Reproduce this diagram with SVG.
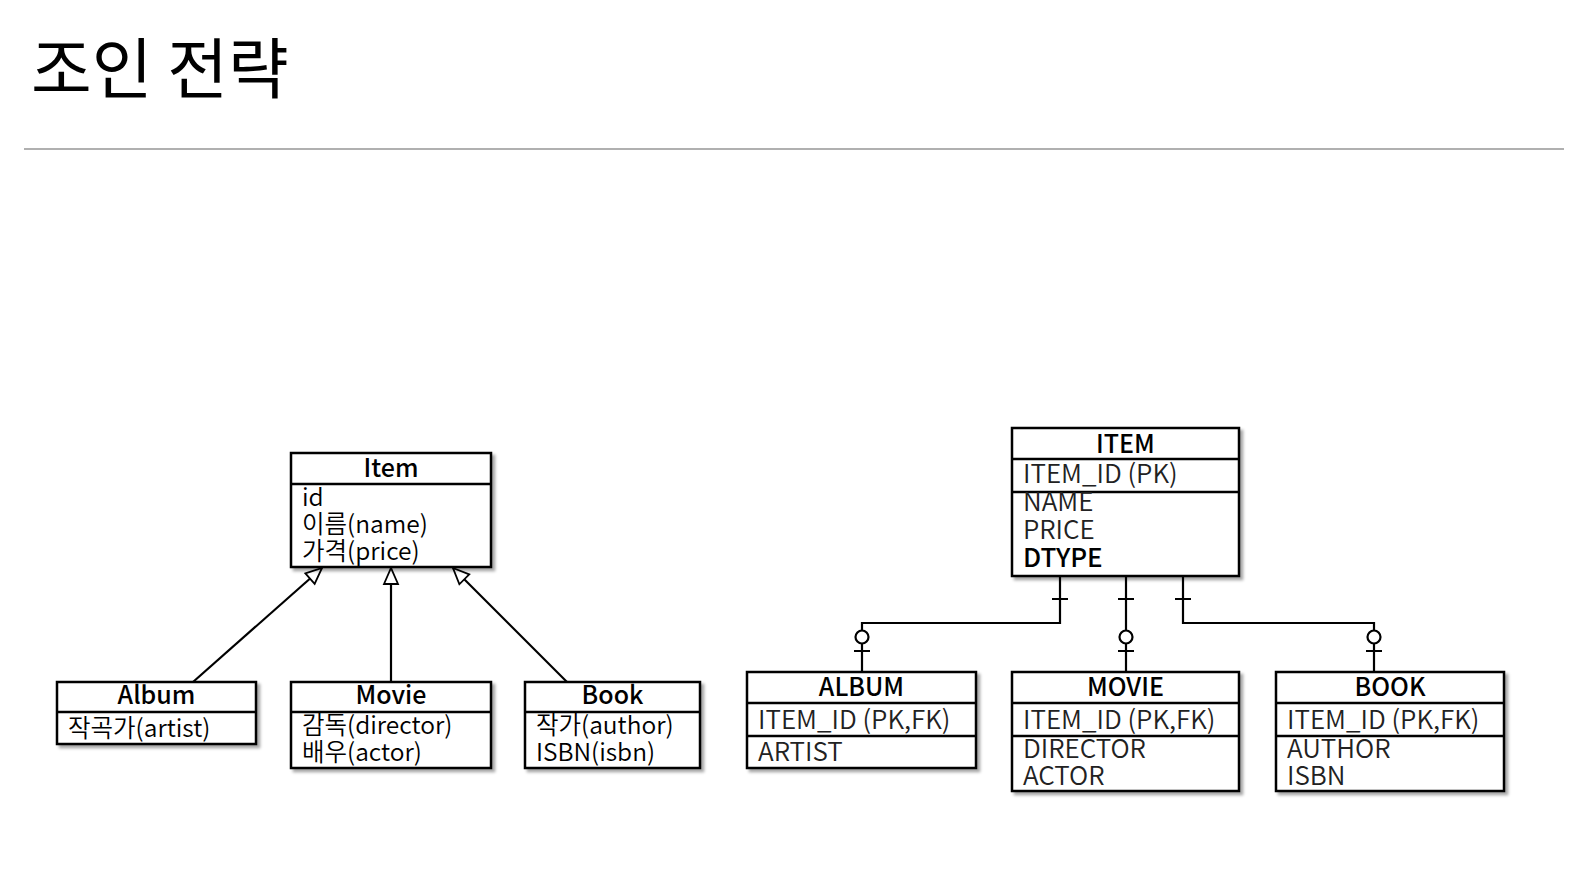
<svg xmlns="http://www.w3.org/2000/svg" width="1594" height="872" viewBox="0 0 1594 872">
<defs>
<filter id="sh" x="-10%" y="-10%" width="130%" height="130%">
<feDropShadow dx="3" dy="3" stdDeviation="1.5" flood-color="#000" flood-opacity="0.35"/>
</filter>
<marker id="tri" markerUnits="userSpaceOnUse" markerWidth="20" markerHeight="20" viewBox="0 0 20 20" refX="18" refY="10" orient="auto">
<path d="M2,3 L18,10 L2,17 Z" fill="#fff" stroke="#000" stroke-width="1.8"/>
</marker>
<style>
text{font-family:"Noto Sans CJK KR","Liberation Sans",sans-serif;fill:#000}
.box{fill:#fff;stroke:#000;stroke-width:2.5;filter:url(#sh)}
.sep{stroke:#000;stroke-width:2.5}
.hd{font-size:25px;font-weight:500;text-anchor:middle}
.at{font-size:24.5px;font-weight:350}
.er{font-size:26px;font-weight:350;fill:#222}
.ln{fill:none;stroke:#000;stroke-width:2.2}
</style>
</defs>
<rect width="1594" height="872" fill="#fff"/>
<text x="31" y="93" style="font-size:66px;font-weight:400">조인 전략</text>
<line x1="24" y1="149" x2="1564" y2="149" stroke="#b0b0b0" stroke-width="2"/>

<g id="connectors">
<line class="ln" x1="193" y1="682" x2="322" y2="568" marker-end="url(#tri)"/>
<line class="ln" x1="391" y1="682" x2="391" y2="568" marker-end="url(#tri)"/>
<line class="ln" x1="567" y1="682" x2="453" y2="568" marker-end="url(#tri)"/>
<path class="ln" d="M1060,576 V623 H862 V672"/>
<path class="ln" d="M1126,576 V672"/>
<path class="ln" d="M1183,576 V623 H1374 V672"/>
<path class="ln" d="M1052,599 H1068 M1118,599 H1134 M1175,599 H1191 M854,651 H870 M1118,651 H1134 M1366,651 H1382"/>
<circle cx="862" cy="637" r="6.5" fill="#fff" stroke="#000" stroke-width="2.2"/>
<circle cx="1126" cy="637" r="6.5" fill="#fff" stroke="#000" stroke-width="2.2"/>
<circle cx="1374" cy="637" r="6.5" fill="#fff" stroke="#000" stroke-width="2.2"/>
</g>

<g id="item">
<rect class="box" x="291" y="453" width="200" height="114"/>
<line class="sep" x1="291" y1="484" x2="491" y2="484"/>
<text class="hd" x="391" y="477">Item</text>
<text class="at" x="302" y="506">id</text>
<text class="at" x="302" y="533">이름(name)</text>
<text class="at" x="302" y="560">가격(price)</text>
</g>
<g id="album">
<rect class="box" x="57" y="682" width="199" height="62"/>
<line class="sep" x1="57" y1="712" x2="256" y2="712"/>
<text class="hd" x="156.5" y="704">Album</text>
<text class="at" x="68" y="737">작곡가(artist)</text>
</g>
<g id="movie">
<rect class="box" x="291" y="682" width="200" height="86"/>
<line class="sep" x1="291" y1="712" x2="491" y2="712"/>
<text class="hd" x="391" y="704">Movie</text>
<text class="at" x="302" y="734">감독(director)</text>
<text class="at" x="302" y="761">배우(actor)</text>
</g>
<g id="book">
<rect class="box" x="525" y="682" width="175" height="86"/>
<line class="sep" x1="525" y1="712" x2="700" y2="712"/>
<text class="hd" x="612.5" y="704">Book</text>
<text class="at" x="536" y="734">작가(author)</text>
<text class="at" x="536" y="761">ISBN(isbn)</text>
</g>

<g id="ITEM">
<rect class="box" x="1012" y="428" width="227" height="148"/>
<line class="sep" x1="1012" y1="459" x2="1239" y2="459"/>
<line class="sep" x1="1012" y1="492" x2="1239" y2="492"/>
<text class="hd" x="1125.5" y="453">ITEM</text>
<text class="er" x="1023" y="483">ITEM_ID (PK)</text>
<text class="er" x="1023" y="511">NAME</text>
<text class="er" x="1023" y="539">PRICE</text>
<text class="er" x="1023" y="567" style="font-weight:500;fill:#000">DTYPE</text>
</g>
<g id="ALBUM">
<rect class="box" x="747" y="672" width="229" height="96"/>
<line class="sep" x1="747" y1="703" x2="976" y2="703"/>
<line class="sep" x1="747" y1="736" x2="976" y2="736"/>
<text class="hd" x="861.5" y="696">ALBUM</text>
<text class="er" x="758" y="729">ITEM_ID (PK,FK)</text>
<text class="er" x="758" y="761">ARTIST</text>
</g>
<g id="MOVIE">
<rect class="box" x="1012" y="672" width="227" height="119"/>
<line class="sep" x1="1012" y1="703" x2="1239" y2="703"/>
<line class="sep" x1="1012" y1="736" x2="1239" y2="736"/>
<text class="hd" x="1125.5" y="696">MOVIE</text>
<text class="er" x="1023" y="729">ITEM_ID (PK,FK)</text>
<text class="er" x="1023" y="758">DIRECTOR</text>
<text class="er" x="1023" y="785">ACTOR</text>
</g>
<g id="BOOK">
<rect class="box" x="1276" y="672" width="228" height="119"/>
<line class="sep" x1="1276" y1="703" x2="1504" y2="703"/>
<line class="sep" x1="1276" y1="736" x2="1504" y2="736"/>
<text class="hd" x="1390" y="696">BOOK</text>
<text class="er" x="1287" y="729">ITEM_ID (PK,FK)</text>
<text class="er" x="1287" y="758">AUTHOR</text>
<text class="er" x="1287" y="785">ISBN</text>
</g>
</svg>
